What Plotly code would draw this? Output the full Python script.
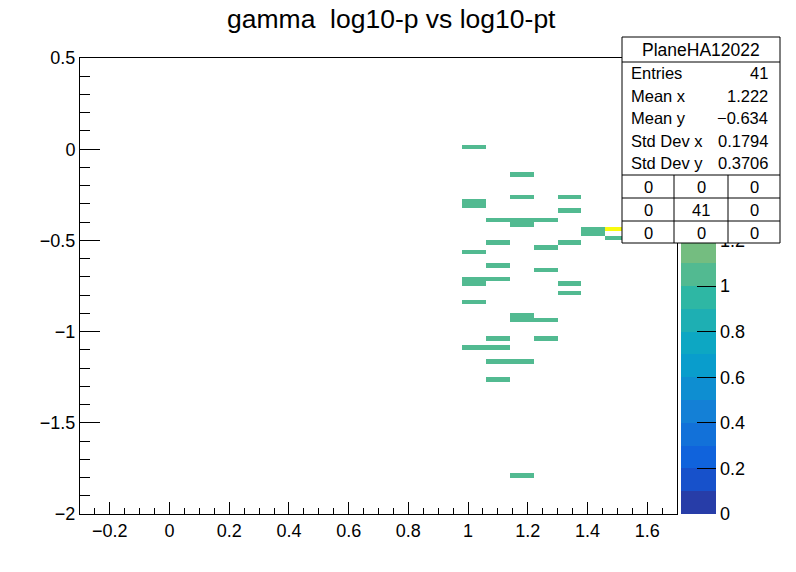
import numpy as np
import plotly.graph_objects as go

# ---------------- data ----------------
TITLE = "gamma  log10-p vs log10-pt"
STATS_NAME = "PlaneHA12022"
stats_labels = ["Entries", "Mean x", "Mean y", "Std Dev x", "Std Dev y"]
stats_values = ["41", "1.222", "\u22120.634", "0.1794", "0.3706"]
overflow_grid = [["0", "0", "0"], ["0", "41", "0"], ["0", "0", "0"]]

# histogram binning (TH2: 25 x-bins, 100 y-bins)
x_min, x_max, nx = -0.3, 1.7, 25
y_min, y_max, ny = -2.0, 0.5, 100

# filled bins: x-bin centre, y-bin centre, content
bin_x = ([1.02] * 8 + [1.10] * 8 + [1.18] * 8 + [1.26] * 5 + [1.34] * 5
         + [1.42] * 2 + [1.50] * 2 + [1.66] * 2)
bin_y = [0.0125, -0.2875, -0.3125, -0.5625, -0.7125, -0.7375, -0.8375, -1.0875,
         -0.3875, -0.5125, -0.6375, -0.7125, -1.0375, -1.0875, -1.1625, -1.2625,
         -0.1375, -0.2625, -0.3875, -0.4125, -0.9125, -0.9375, -1.1625, -1.7875,
         -0.3875, -0.5375, -0.6625, -0.9375, -1.0375,
         -0.2625, -0.3375, -0.5125, -0.7375, -0.7875,
         -0.4375, -0.4625,
         -0.4375, -0.4875,
         -0.1125, -0.0875]
bin_count = [1] * 36 + [2, 1] + [1, 1]

z_min, z_max, n_levels = 0.0, 2.0, 20
# colour-axis labels left visible (the rest sit under the stats box)
z_tick_vals = [0, 0.2, 0.4, 0.6, 0.8, 1.0, 1.2]

# ---------------- histogram grid ----------------
xedges = np.linspace(x_min, x_max, nx + 1)
yedges = np.linspace(y_min, y_max, ny + 1)
H, _, _ = np.histogram2d(bin_x, bin_y, bins=[xedges, yedges], weights=bin_count)
Z = H.T.astype(float)
Z[Z == 0] = np.nan

# ---------------- kBird palette, 20 contour bands ----------------
stops = [0.0, 0.125, 0.25, 0.375, 0.5, 0.625, 0.75, 0.875, 1.0]
red = [0.2082, 0.0592, 0.0780, 0.0232, 0.1802, 0.5301, 0.8186, 0.9956, 0.9764]
green = [0.1664, 0.3599, 0.5041, 0.6419, 0.7178, 0.7492, 0.7328, 0.7862, 0.9832]
blue = [0.5293, 0.8684, 0.8385, 0.7914, 0.6425, 0.4662, 0.3499, 0.1968, 0.0539]


def bird(t):
    r = np.interp(t, stops, red)
    g = np.interp(t, stops, green)
    b = np.interp(t, stops, blue)
    return "rgb(%d,%d,%d)" % (round(r * 255), round(g * 255), round(b * 255))


band_cols = [bird(int((i + 0.99) * 255 / n_levels) / 254.0) for i in range(n_levels)]
cs = []
eps = 1e-6
for i, c in enumerate(band_cols):
    cs.append([i / n_levels, c])
    cs.append([(i + 1) / n_levels - (eps if i < n_levels - 1 else 0), c])

# ---------------- geometry helpers ----------------
W, Hh = 796, 572
ML, MR, MT, MB = 80, 80, 58, 58
PW = W - ML - MR
PH = Hh - MT - MB


def px(x):
    return (x - ML) / PW


def py(y):
    return (Hh - MB - y) / PH


FONT = "Liberation Sans, Arial, Helvetica, sans-serif"

fig = go.Figure()
fig.add_trace(go.Heatmap(x=xedges, y=yedges, z=Z, colorscale=cs, zmin=z_min, zmax=z_max,
                         showscale=False, zsmooth=False, hoverinfo="skip"))

lev_edges = np.linspace(z_min, z_max, n_levels + 1)
lev_centres = (lev_edges[:-1] + lev_edges[1:]) / 2
fig.add_trace(go.Heatmap(x=[0, 1], y=lev_edges, z=[[v] for v in lev_centres], colorscale=cs,
                         zmin=z_min, zmax=z_max, showscale=False, zsmooth=False,
                         hoverinfo="skip", xaxis="x2", yaxis="y2"))

ax_common = dict(showgrid=False, zeroline=False, ticks="inside", tickcolor="black",
                 tickfont=dict(family=FONT, size=18, color="black"))
fig.update_layout(
    width=W, height=Hh, margin=dict(l=ML, r=MR, t=MT, b=MB),
    paper_bgcolor="white", plot_bgcolor="white", showlegend=False,
    xaxis=dict(domain=[0, px(677)], range=[x_min, x_max], tick0=0, dtick=0.2,
               ticklen=12.5, showline=True, mirror=True, linecolor="black", linewidth=1,
               minor=dict(dtick=0.05, ticklen=6.5, ticks="inside", tickcolor="black"),
               **ax_common),
    yaxis=dict(domain=[0, 1], range=[y_min, y_max], tick0=0, dtick=0.5,
               ticklen=20, showline=True, mirror=True, linecolor="black", linewidth=1,
               minor=dict(dtick=0.1, ticklen=10, ticks="inside", tickcolor="black"),
               **ax_common),
    xaxis2=dict(domain=[px(681), 1], range=[0, 1], visible=False, anchor="y2"),
    yaxis2=dict(domain=[0, 1], range=[z_min, z_max], anchor="x2", side="right",
                tickvals=z_tick_vals, ticklen=19, showline=False,
                ticklabelstandoff=3, **ax_common),
)

# title
fig.add_annotation(text=TITLE, xref="paper", yref="paper", x=px(391), y=py(19),
                   xanchor="center", yanchor="middle", showarrow=False,
                   font=dict(family=FONT, size=26.5, color="black"))

# stats box
L, R, T, B = 622, 780, 37, 243
shapes = [dict(type="rect", x0=px(L), x1=px(R), y0=py(T), y1=py(B),
               fillcolor="white", line=dict(color="black", width=1))]
for yy in [62, 175, 198, 221]:
    shapes.append(dict(type="line", x0=px(L), x1=px(R), y0=py(yy), y1=py(yy),
                       line=dict(color="black", width=1)))
for xx in [674, 728]:
    shapes.append(dict(type="line", x0=px(xx), x1=px(xx), y0=py(175), y1=py(B),
                       line=dict(color="black", width=1)))
for s in shapes:
    s.update(xref="paper", yref="paper", layer="above")
fig.update_layout(shapes=shapes)

sfont = dict(family=FONT, size=16.5, color="black")
fig.add_annotation(text=STATS_NAME, xref="paper", yref="paper", x=px(701), y=py(50),
                   xanchor="center", yanchor="middle", showarrow=False,
                   font=dict(family=FONT, size=17.5, color="black"))
row_y = [73, 96, 118, 141, 163]
for lab, val, yy in zip(stats_labels, stats_values, row_y):
    fig.add_annotation(text=lab, xref="paper", yref="paper", x=px(629), y=py(yy),
                       xanchor="left", yanchor="middle", showarrow=False, font=sfont)
    fig.add_annotation(text=val, xref="paper", yref="paper", x=px(770), y=py(yy),
                       xanchor="right", yanchor="middle", showarrow=False, font=sfont)
grid_y = [186.5, 210, 232.5]
grid_x = [648, 701, 754]
for r, yy in enumerate(grid_y):
    for c, xx in enumerate(grid_x):
        fig.add_annotation(text=overflow_grid[r][c], xref="paper", yref="paper",
                           x=px(xx), y=py(yy), xanchor="center", yanchor="middle",
                           showarrow=False, font=sfont)

fig.write_html("out.html")
